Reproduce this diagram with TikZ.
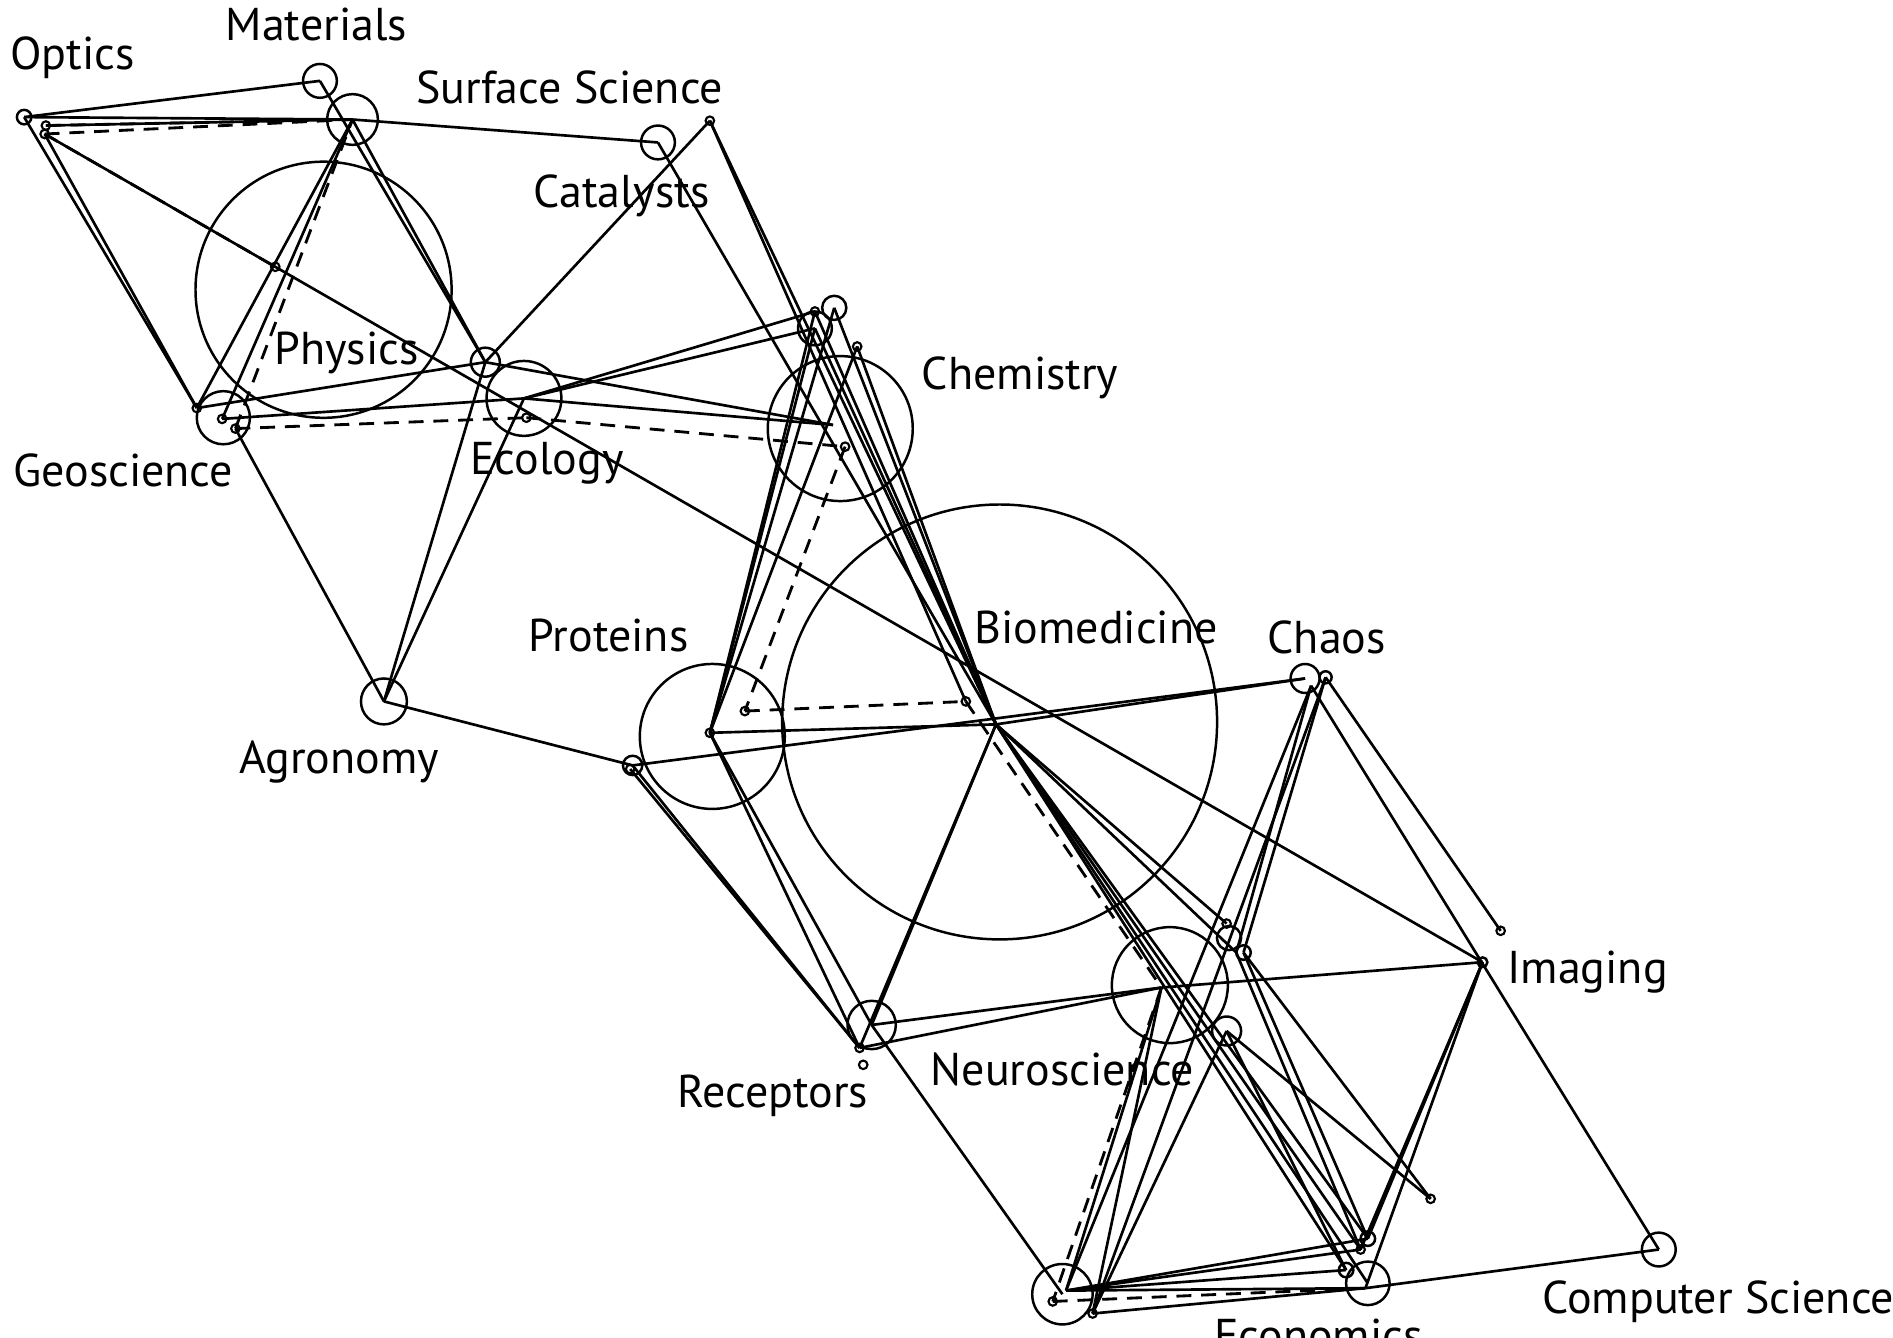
\documentclass[tikz,border=0pt]{standalone}
\usepackage{fontspec}
\setmainfont{PT Sans}
\begin{document}
\begin{tikzpicture}[x=0.012cm,y=-0.012cm,
  link/.style={line width=0.75pt},
  dlink/.style={line width=0.8pt,dash pattern=on 4.2pt off 2.8pt},
  hub/.style={circle,draw,line width=0.7pt,inner sep=0pt,minimum size=#1*0.024cm},
  dotn/.style={circle,draw,line width=0.6pt,inner sep=0pt,minimum size=0.085cm},
  lbl/.style={font=\fontsize{13}{15}\selectfont,inner sep=0pt}]
\useasboundingbox (0,0) rectangle (1568,1108);
\fill[white] (0,0) rectangle (1568,1108);
\clip (0,0) rectangle (1568,1108);

% ---- topics (circle size = weight) ----
\node[hub=6]   (optics)    at (20,97)   {};
\node[dotn]    (o2)        at (38,104)  {};
\node[dotn]    (o3)        at (37,111)  {};
\node[hub=14]  (materials) at (265,67)  {};
\node[hub=21]  (p1)        at (292,99)  {};
\node[hub=14]  (surf)      at (545,118) {};
\node[dotn]    (catal)     at (588,100) {};
\node[hub=106] (physics)   at (268,240) {};
\node[dotn]    (phd)       at (228,221) {};
\node[hub=22]  (geo)       at (185,346) {};
\node[dotn]    (g1)        at (163,338) {};
\node[dotn]    (g2)        at (184,347) {};
\node[dotn]    (g3)        at (195,355) {};
\node[hub=12]  (e1)        at (402,300) {};
\node[hub=31]  (ecology)   at (434,330) {};
\node[dotn]    (ed)        at (436,346) {};
\node[hub=10]  (ch1)       at (691,255) {};
\node[hub=14]  (ch2)       at (675,272) {};
\node[dotn]    (ch2t)      at (675,258) {};
\node[dotn]    (ch3)       at (710,287) {};
\node[hub=60]  (chem)      at (696,355) {};
\coordinate    (chd)       at (690,352);
\node[dotn]    (chd2)      at (700,370) {};
\node[hub=19]  (agro)      at (318,581) {};
\node[hub=60]  (prot)      at (590,610) {};
\node[dotn]    (prd)       at (588,607) {};
\node[dotn]    (prd2)      at (617,589) {};
\node[hub=8]   (pr2)       at (524,634) {};
\node[dotn]    (pr2d)      at (522,637) {};
\node[hub=180] (bio)       at (828,598) {};
\coordinate    (bd)        at (825,600);
\node[dotn]    (bd2)       at (800,581) {};
\node[hub=12]  (chaos)     at (1081,562) {};
\coordinate    (chc)       at (1086,568);
\node[hub=5]   (chaos2)    at (1098,561) {};
\node[hub=4]   (imaging)   at (1228,797) {};
\node[dotn]    (imd)       at (1243,771) {};
\node[hub=48]  (neuro)     at (969,816) {};
\coordinate    (nd)        at (962,818);
\node[hub=10]  (n1)        at (1018,777) {};
\node[dotn]    (n1t)       at (1016,765) {};
\node[hub=6]   (n2)        at (1030,789) {};
\coordinate    (n2b)       at (1024,789);
\node[hub=12]  (n3)        at (1016,854) {};
\node[hub=20]  (recep)     at (722,849) {};
\node[dotn]    (rd1)       at (712,868) {};
\node[dotn]    (rd2)       at (715,882) {};
\node[hub=25]  (lo)        at (880,1072) {};
\coordinate    (lc)        at (883,1069);
\node[dotn]    (ld1)       at (872,1078) {};
\node[dotn]    (ld2)       at (905,1088) {};
\node[hub=18]  (econ)      at (1133,1063) {};
\coordinate    (ecc)       at (1131,1067);
\node[hub=6]   (ec1)       at (1115,1052) {};
\node[hub=6]   (ec2)       at (1133,1026) {};
\node[dotn]    (ec3)       at (1127,1035) {};
\node[dotn]    (xd)        at (1185,993) {};
\node[hub=14]  (cs)        at (1374,1035) {};

% ---- solid links ----
\foreach \a/\b in {
  optics/materials, optics/p1, o2/p1, p1/surf, optics/g1, o3/g1, o3/imaging,
  g1/p1, g2/p1, materials/e1, p1/e1, g1/e1, g2/ecology,
  e1/chd, ecology/chd, ecology/ch2t, ecology/ch2, catal/e1,
  agro/e1, agro/ecology, g3/agro, agro/pr2,
  pr2/rd1, pr2d/rd1, prd/recep, prd/rd1,
  recep/bd, rd1/bd, recep/nd, rd1/nd, recep/lo, prd/bd,
  bd/chaos, pr2/chaos,
  ch1/prd, ch2/prd, ch3/prd, ch2t/prd,
  ch1/bd, ch2/bd, ch3/bd, ch2t/bd, surf/bd, catal/bd, catal/bd2,
  bd/ec2, bd/ec3, bd/econ, bd/ec1, bd/n1t, bd/n2b,
  chc/n2b, chaos2/n2, chc/lc, chaos2/ld2, chaos2/imd, chc/cs,
  imaging/nd, imaging/ec2, imaging/ec3, imaging/ecc,
  n2/ec2, n2b/ec3, n2/xd, n3/xd, n3/ec1,
  lc/nd, ld2/nd, ld2/n3,
  lc/ec2, lc/ec3, lc/ec1, lc/ecc, ld2/ecc, ecc/cs}
  \draw[link] (\a.center) -- (\b.center);

% ---- dashed links ----
\foreach \a/\b in {
  o2/p1, o3/p1, o3/phd, g3/p1, g3/ed, ed/chd2,
  chd2/prd2, prd2/bd2, bd2/nd, nd/ld1, ld1/ecc}
  \draw[dlink] (\a.center) -- (\b.center);

% ---- labels ----
\node[lbl] (lOptics)  at (60,48)    {Optics};
\node[lbl] (lMat)     at (262,20)   {Materials};
\node[lbl] (lSurf)    at (472,72)   {Surface Science};
\node[lbl] (lCat)     at (515,162)  {Catalysts};
\node[lbl] (lPhys)    at (287,292)  {Physics};
\node[lbl] (lGeo)     at (102,390)  {Geoscience};
\node[lbl] (lEco)     at (453,384)  {Ecology};
\node[lbl] (lChem)    at (845,313)  {Chemistry};
\node[lbl] (lProt)    at (504,526)  {Proteins};
\node[lbl] (lBio)     at (908,520)  {Biomedicine};
\node[lbl] (lChaos)   at (1099,528) {Chaos};
\node[lbl] (lAgro)    at (281,631)  {Agronomy};
\node[lbl] (lImg)     at (1315,805) {Imaging};
\node[lbl] (lNeuro)   at (880,886)  {Neuroscience};
\node[lbl] (lRec)     at (640,908)  {Receptors};
\node[lbl] (lEcon)    at (1092,1106) {Economics};
\node[lbl,anchor=west] (lCS) at (1277,1078) {Computer Science};
\end{tikzpicture}
\end{document}
